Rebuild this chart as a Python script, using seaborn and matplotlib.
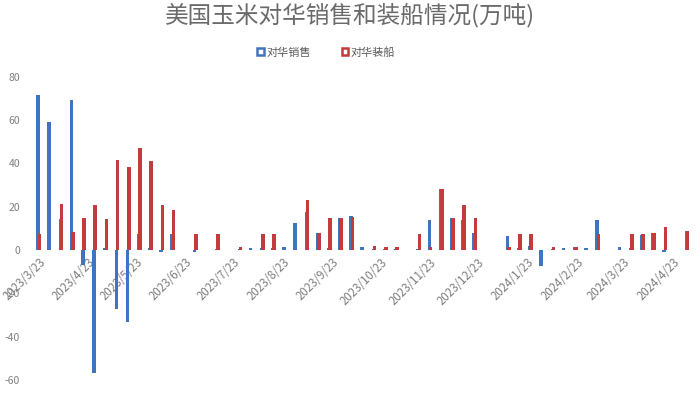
import numpy as np
import pandas as pd
import matplotlib
matplotlib.use('Agg')
import matplotlib.pyplot as plt
import seaborn as sns
from matplotlib.patches import Patch

nan = np.nan

# weekly report dates (Thursdays) starting 2023/3/23
week_dates = pd.date_range('2023-03-23', periods=59, freq='7D')

# 对华销售 (万吨), NaN = no report that week
sales = [71.5, 59.0, 14.5, 69.5, -7.0, -57.0, 1.0, -27.5, -33.5, 7.5,
         1.0, -1.0, 7.5, nan, -1.0, nan, 0.5, nan, 0.3, 1.0,
         1.0, 1.0, 1.5, 12.5, 17.8, 8.0, 1.0, 14.6, 15.6, 1.5,
         0.5, 0.3, 0.3, nan, 0.3, 14.0, 28.0, 15.0, 14.0, 8.0,
         nan, nan, 6.7, 1.0, 2.0, -7.2, 0.3, 1.0, 1.5, 1.0,
         14.0, nan, 1.5, 1.0, 7.0, 8.0, -1.0, nan, 9.0]

# 对华装船 (万吨)
shipments = [7.5, 0.0, 21.5, 8.5, 14.7, 21.0, 14.3, 41.7, 38.5, 47.0,
             41.3, 21.0, 18.7, nan, 7.5, nan, 7.5, nan, 1.2, 0.0,
             7.5, 7.5, 0.0, 0.0, 23.3, 8.0, 14.7, 14.7, 15.4, 0.0,
             2.0, 1.2, 1.2, nan, 7.5, 1.2, 28.2, 14.8, 21.0, 14.6,
             nan, nan, 1.5, 7.5, 7.5, 0.0, 1.2, 0.0, 1.5, 0.0,
             7.5, nan, 0.0, 7.5, 7.2, 8.0, 10.8, nan, 9.0]

tick_labels = ['2023/3/23', '2023/4/23', '2023/5/23', '2023/6/23', '2023/7/23',
               '2023/8/23', '2023/9/23', '2023/10/23', '2023/11/23', '2023/12/23',
               '2024/1/23', '2024/2/23', '2024/3/23', '2024/4/23']

y_ticks = [-60, -40, -20, 0, 20, 40, 60, 80]

BLUE = '#4174BF'
RED = '#C33B3C'
GRAY = '#7F7F7F'

sns.set_theme(style='white')
plt.rcParams['font.family'] = ['Noto Sans CJK SC', 'DejaVu Sans']

day = (week_dates - week_dates[0]).days.to_numpy()
df = pd.DataFrame({'day': day, 'sales': sales, 'shipments': shipments})

fig = plt.figure(figsize=(7, 4.11), dpi=100)
ax = fig.add_axes([0.0484, 0.076, 0.9423, 0.7367])

bar_w = 2.2 / 7
d_sales = df.dropna(subset=['sales']).assign(pos=lambda d: d['day'] - 0.4)
d_ship = df.dropna(subset=['shipments']).assign(pos=lambda d: d['day'] + 0.4)
sns.barplot(data=d_sales, x='pos', y='sales', native_scale=True, width=bar_w,
            color=BLUE, saturation=1, errorbar=None, linewidth=0, ax=ax)
sns.barplot(data=d_ship, x='pos', y='shipments', native_scale=True, width=bar_w,
            color=RED, saturation=1, errorbar=None, linewidth=0, ax=ax)

ax.set_xlim(-3, 410)
ax.set_ylim(-60, 80)
ax.set_xlabel('')
ax.set_ylabel('')

for s in ax.spines.values():
    s.set_visible(False)
# x labels sit on the zero line, like the Excel original (do this before styling ticks)
ax.spines['bottom'].set_position(('data', 0))

tick_days = [(pd.Timestamp(t.replace('/', '-')) - week_dates[0]).days for t in tick_labels]
ax.set_xticks(tick_days)
ax.set_xticklabels(tick_labels, rotation=45, ha='right', va='top',
                   rotation_mode='anchor', fontsize=8.3, color=GRAY)
ax.set_yticks(y_ticks)
ax.set_yticklabels([str(v) for v in y_ticks], fontsize=7.5, color=GRAY)
ax.tick_params(axis='both', length=0)
ax.tick_params(axis='x', pad=4)
ax.tick_params(axis='y', pad=10)

fig.text(0.5, 0.963, '美国玉米对华销售和装船情况(万吨)', ha='center', va='center',
         fontsize=17, color='#6A6A6A')

handles = [Patch(facecolor='white', edgecolor=BLUE, linewidth=1.8, label='对华销售'),
           Patch(facecolor='white', edgecolor=RED, linewidth=1.8, label='对华装船')]
fig.legend(handles=handles, loc='center', bbox_to_anchor=(0.466, 0.873), ncol=2,
           frameon=False, fontsize=8, handlelength=0.6, handleheight=0.6,
           handletextpad=0.2, columnspacing=2.8, labelcolor='#595959')

fig.savefig('out.png', dpi=100)
